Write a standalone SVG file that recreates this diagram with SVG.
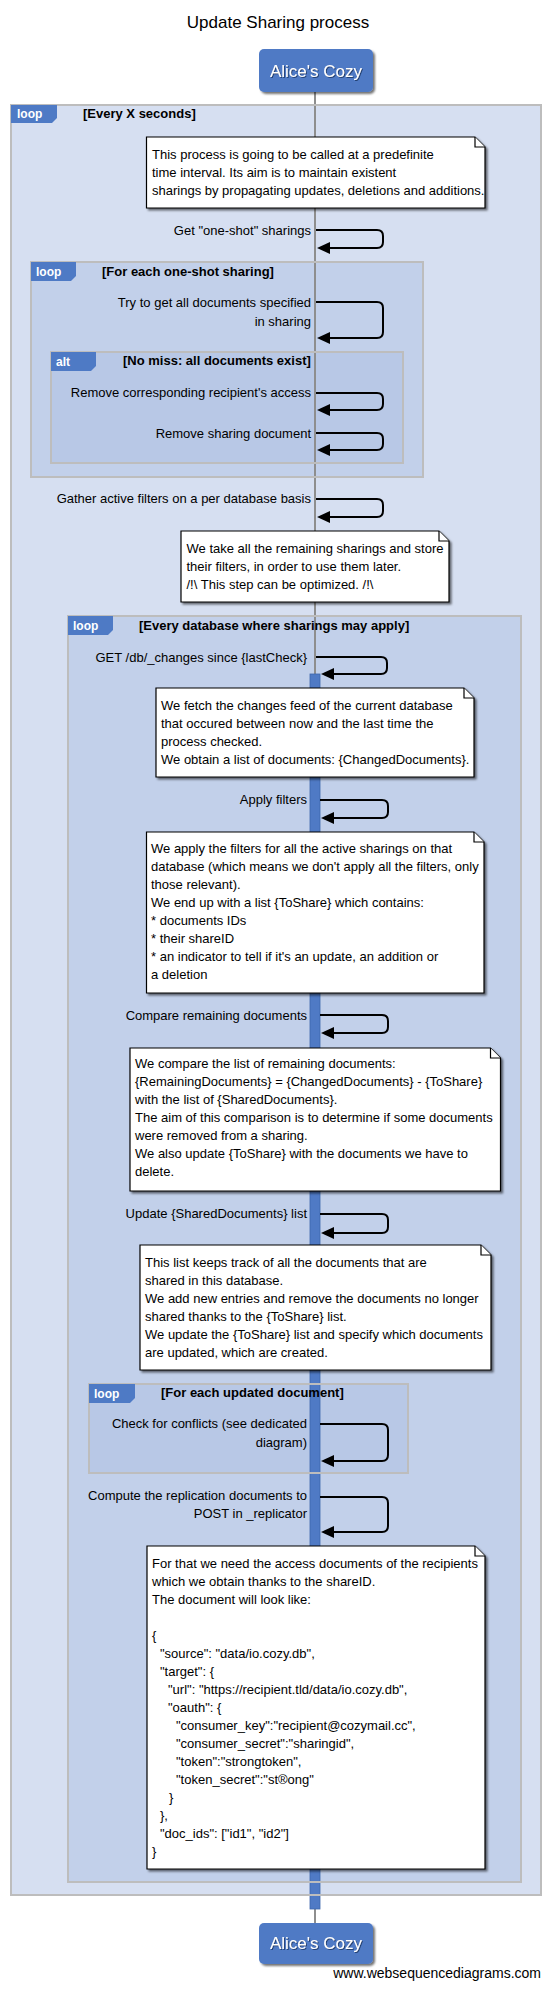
<svg xmlns="http://www.w3.org/2000/svg" width="550" height="1989" viewBox="0 0 550 1989">
<style>
text{font-family:"Liberation Sans",Arial,sans-serif;fill:#000}
.title{font-size:17px}
.lbl{font-size:13px;text-anchor:end}
.note-t{font-size:13px}
.flbl{font-size:13px;font-weight:bold}
.tabt{font-size:12px;font-weight:bold;fill:#fff}
.part-t{font-size:17px;fill:#fff;text-anchor:middle}
.foot{font-size:14px;text-anchor:end}
.frame{fill:none;stroke:#bdbdbd;stroke-width:2}
.f0{fill:#d6dff1}
.f1{fill:#c2d0ea}
.f2{fill:#b8c8e6}
.tab{fill:#4e7ac5}
.note{fill:#fff;stroke:#000;stroke-width:1.2}
.msg{fill:none;stroke:#000;stroke-width:2}
.head{fill:#000}
.box{fill:#4f7ac5}
.life{stroke:#8e8e8e;stroke-width:2}
.act{fill:#4f7ac5;stroke:#3e66ad;stroke-width:0.8}
</style>
<defs>
<filter id="sh" x="-10%" y="-10%" width="130%" height="130%">
<feDropShadow dx="2" dy="2" stdDeviation="1.2" flood-color="#000" flood-opacity="0.55"/>
</filter>
<filter id="tsh" x="-10%" y="-20%" width="130%" height="160%">
<feDropShadow dx="1" dy="1" stdDeviation="0.6" flood-color="#1f3560" flood-opacity="0.8"/>
</filter>
</defs>

<text class="title" x="278" y="28" text-anchor="middle">Update Sharing process</text>

<!-- fragment backgrounds -->
<g id="fragment-fills">
<rect class="f0" x="11" y="105" width="530" height="1790"/>
<rect class="f1" x="31" y="262" width="392" height="215"/>
<rect class="f2" x="51" y="352" width="352" height="111"/>
<rect class="f1" x="68" y="616" width="453" height="1266"/>
<rect class="f2" x="89" y="1384" width="319" height="89"/>
</g>

<!-- lifeline and activation -->
<g id="lifeline">
<line class="life" x1="315" y1="92" x2="315" y2="1923"/>
<rect class="act" x="310" y="674" width="10" height="1235"/>
</g>

<!-- fragments -->
<g id="loop-every-x-seconds">
<rect class="frame" x="11" y="105" width="530" height="1790"/>
<polygon class="tab" points="11,105 57,105 57,118 52,123 11,123"/>
<text class="tabt" x="17" y="118">loop</text>
<text class="flbl" x="83" y="118">[Every X seconds]</text>
</g>
<g id="loop-one-shot">
<rect class="frame" x="31" y="262" width="392" height="215"/>
<polygon class="tab" points="31,262 76,262 76,276 71,281 31,281"/>
<text class="tabt" x="36" y="276">loop</text>
<text class="flbl" x="102" y="276">[For each one-shot sharing]</text>
</g>
<g id="alt-no-miss">
<rect class="frame" x="51" y="352" width="352" height="111"/>
<polygon class="tab" points="51,352 96,352 96,366 91,371 51,371"/>
<text class="tabt" x="56" y="366">alt</text>
<text class="flbl" x="123" y="365">[No miss: all documents exist]</text>
</g>
<g id="loop-every-database">
<rect class="frame" x="68" y="616" width="453" height="1266"/>
<polygon class="tab" points="68,616 113,616 113,630 108,635 68,635"/>
<text class="tabt" x="73" y="630">loop</text>
<text class="flbl" x="139" y="630">[Every database where sharings may apply]</text>
</g>
<g id="loop-updated-document">
<rect class="frame" x="89" y="1384" width="319" height="89"/>
<polygon class="tab" points="89,1384 135,1384 135,1398 130,1403 89,1403"/>
<text class="tabt" x="94" y="1398">loop</text>
<text class="flbl" x="161" y="1397">[For each updated document]</text>
</g>

<!-- connectors -->
<g id="connectors">
<path class="msg" d="M316,230 H377 Q383,230 383,236 V242 Q383,248 377,248 H329"/>
<polygon class="head" points="317,248 330,242 330,254"/>
<text class="lbl" x="311" y="235">Get "one-shot" sharings</text>

<path class="msg" d="M316,302 H377 Q383,302 383,308 V332 Q383,338 377,338 H329"/>
<polygon class="head" points="317,338 330,332 330,344"/>
<text class="lbl" x="311" y="307">Try to get all documents specified</text>
<text class="lbl" x="311" y="326">in sharing</text>

<path class="msg" d="M316,393 H377 Q383,393 383,399 V404 Q383,410 377,410 H329"/>
<polygon class="head" points="317,410 330,404 330,416"/>
<text class="lbl" x="311" y="397">Remove corresponding recipient's access</text>

<path class="msg" d="M316,433 H377 Q383,433 383,439 V444 Q383,450 377,450 H329"/>
<polygon class="head" points="317,450 330,444 330,456"/>
<text class="lbl" x="311" y="438">Remove sharing document</text>

<path class="msg" d="M316,499 H377 Q383,499 383,505 V511 Q383,517 377,517 H329"/>
<polygon class="head" points="317,517 330,511 330,523"/>
<text class="lbl" x="311" y="503">Gather active filters on a per database basis</text>

<path class="msg" d="M316,657 H381 Q387,657 387,663 V668 Q387,674 381,674 H333"/>
<polygon class="head" points="321,674 334,668 334,680"/>
<text class="lbl" x="307" y="662">GET /db/_changes since {lastCheck}</text>

<path class="msg" d="M320,800 H382 Q388,800 388,806 V812 Q388,818 382,818 H333"/>
<polygon class="head" points="321,818 334,812 334,824"/>
<text class="lbl" x="307" y="804">Apply filters</text>

<path class="msg" d="M320,1015 H382 Q388,1015 388,1021 V1027 Q388,1033 382,1033 H333"/>
<polygon class="head" points="321,1033 334,1027 334,1039"/>
<text class="lbl" x="307" y="1020">Compare remaining documents</text>

<path class="msg" d="M320,1214 H382 Q388,1214 388,1220 V1227 Q388,1233 382,1233 H333"/>
<polygon class="head" points="321,1233 334,1227 334,1239"/>
<text class="lbl" x="307" y="1218">Update {SharedDocuments} list</text>

<path class="msg" d="M320,1424 H382 Q388,1424 388,1430 V1455 Q388,1461 382,1461 H333"/>
<polygon class="head" points="321,1461 334,1455 334,1467"/>
<text class="lbl" x="307" y="1428">Check for conflicts (see dedicated</text>
<text class="lbl" x="307" y="1447">diagram)</text>

<path class="msg" d="M320,1497 H382 Q388,1497 388,1503 V1526 Q388,1532 382,1532 H333"/>
<polygon class="head" points="321,1532 334,1526 334,1538"/>
<text class="lbl" x="307" y="1500">Compute the replication documents to</text>
<text class="lbl" x="307" y="1518">POST in _replicator</text>
</g>

<!-- notes -->
<g id="note-1">
<path class="note" filter="url(#sh)" d="M146.5,137 H475 L485,147 V208 H146.5 Z"/>
<path class="note" d="M475,137 V147 H485" fill="none"/>
<text class="note-t"><tspan x="152" y="159">This process is going to be called at a predefinite</tspan><tspan x="152" y="177">time interval. Its aim is to maintain existent</tspan><tspan x="152" y="195">sharings by propagating updates, deletions and additions.</tspan></text>
</g>
<g id="note-2">
<path class="note" filter="url(#sh)" d="M181,531 H439 L449,541 V602 H181 Z"/>
<path class="note" d="M439,531 V541 H449" fill="none"/>
<text class="note-t"><tspan x="186.5" y="553">We take all the remaining sharings and store</tspan><tspan x="186.5" y="571">their filters, in order to use them later.</tspan><tspan x="186.5" y="589">/!\ This step can be optimized. /!\</tspan></text>
</g>
<g id="note-3">
<path class="note" filter="url(#sh)" d="M156,688 H464 L474,698 V777 H156 Z"/>
<path class="note" d="M464,688 V698 H474" fill="none"/>
<text class="note-t"><tspan x="161" y="710">We fetch the changes feed of the current database</tspan><tspan x="161" y="728">that occured between now and the last time the</tspan><tspan x="161" y="746">process checked.</tspan><tspan x="161" y="764">We obtain a list of documents: {ChangedDocuments}.</tspan></text>
</g>
<g id="note-4">
<path class="note" filter="url(#sh)" d="M146.5,832 H474 L484,842 V993 H146.5 Z"/>
<path class="note" d="M474,832 V842 H484" fill="none"/>
<text class="note-t"><tspan x="151" y="853">We apply the filters for all the active sharings on that</tspan><tspan x="151" y="871">database (which means we don't apply all the filters, only</tspan><tspan x="151" y="889">those relevant).</tspan><tspan x="151" y="907">We end up with a list {ToShare} which contains:</tspan><tspan x="151" y="925">* documents IDs</tspan><tspan x="151" y="943">* their shareID</tspan><tspan x="151" y="961">* an indicator to tell if it's an update, an addition or</tspan><tspan x="151" y="979">a deletion</tspan></text>
</g>
<g id="note-5">
<path class="note" filter="url(#sh)" d="M130,1048 H490.5 L500.5,1058 V1191 H130 Z"/>
<path class="note" d="M490.5,1048 V1058 H500.5" fill="none"/>
<text class="note-t"><tspan x="135" y="1068">We compare the list of remaining documents:</tspan><tspan x="135" y="1086">{RemainingDocuments} = {ChangedDocuments} - {ToShare}</tspan><tspan x="135" y="1104">with the list of {SharedDocuments}.</tspan><tspan x="135" y="1122">The aim of this comparison is to determine if some documents</tspan><tspan x="135" y="1140">were removed from a sharing.</tspan><tspan x="135" y="1158">We also update {ToShare} with the documents we have to</tspan><tspan x="135" y="1176">delete.</tspan></text>
</g>
<g id="note-6">
<path class="note" filter="url(#sh)" d="M140,1245 H481 L491,1255 V1370 H140 Z"/>
<path class="note" d="M481,1245 V1255 H491" fill="none"/>
<text class="note-t"><tspan x="145" y="1267">This list keeps track of all the documents that are</tspan><tspan x="145" y="1285">shared in this database.</tspan><tspan x="145" y="1303">We add new entries and remove the documents no longer</tspan><tspan x="145" y="1321">shared thanks to the {ToShare} list.</tspan><tspan x="145" y="1339">We update the {ToShare} list and specify which documents</tspan><tspan x="145" y="1357">are updated, which are created.</tspan></text>
</g>
<g id="note-7">
<path class="note" filter="url(#sh)" d="M147,1546 H475 L485,1556 V1869 H147 Z"/>
<path class="note" d="M475,1546 V1556 H485" fill="none"/>
<text class="note-t"><tspan x="152" y="1568">For that we need the access documents of the recipients</tspan><tspan x="152" y="1586">which we obtain thanks to the shareID.</tspan><tspan x="152" y="1604">The document will look like:</tspan><tspan x="152" y="1640">{</tspan><tspan x="160" y="1658">"source": "data/io.cozy.db",</tspan><tspan x="160" y="1676">"target": {</tspan><tspan x="168" y="1694">"url": "https://recipient.tld/data/io.cozy.db",</tspan><tspan x="168" y="1712">"oauth": {</tspan><tspan x="176" y="1730">"consumer_key":"recipient@cozymail.cc",</tspan><tspan x="176" y="1748">"consumer_secret":"sharingid",</tspan><tspan x="176" y="1766">"token":"strongtoken",</tspan><tspan x="176" y="1784">"token_secret":"st®ong"</tspan><tspan x="169" y="1802">}</tspan><tspan x="160" y="1820">},</tspan><tspan x="160" y="1838">"doc_ids": ["id1", "id2"]</tspan><tspan x="152" y="1856">}</tspan></text>
</g>

<!-- participants -->
<g id="participant-top">
<rect class="box" filter="url(#sh)" x="259" y="49" width="114" height="43" rx="5"/>
<text class="part-t" x="316" y="77" filter="url(#tsh)">Alice's Cozy</text>
</g>
<g id="participant-bottom">
<rect class="box" filter="url(#sh)" x="259" y="1923" width="114" height="41" rx="5"/>
<text class="part-t" x="316" y="1949" filter="url(#tsh)">Alice's Cozy</text>
</g>

<text class="foot" x="541" y="1978">www.websequencediagrams.com</text>
</svg>
